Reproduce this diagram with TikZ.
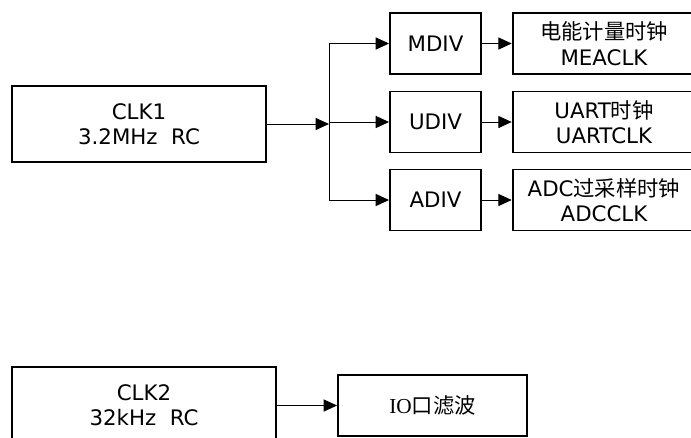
\documentclass[tikz,border=0pt]{standalone}
\usepackage{fontspec}
\newfontfamily\dv{DejaVu Sans}
\newfontfamily\cjk{Noto Sans CJK SC}
\newfontfamily\lsr{Liberation Serif}
\usetikzlibrary{arrows.meta}
\begin{document}
\begin{tikzpicture}[x=0.75pt,y=-0.75pt,
  box/.style={draw,line width=1.4pt,inner sep=0pt,align=center,
    font=\dv\fontsize{16}{19}\selectfont},
  conn/.style={line width=0.75pt},
  arr/.style={conn,-{Triangle[length=10pt,width=9pt]}}]
\clip (0,0) rectangle (691,437);
\node[box,minimum width=190.5pt,minimum height=57pt] (clk1) at (139,124) {CLK1\\3.2MHz\ \ RC};
\node[box,minimum width=68.25pt,minimum height=45.75pt] (mdiv) at (435.5,43.5) {MDIV};
\node[box,minimum width=68.25pt,minimum height=45.75pt] (udiv) at (435.5,122) {UDIV};
\node[box,minimum width=68.25pt,minimum height=45.75pt] (adiv) at (435.5,200) {ADIV};
\node[box,minimum width=137pt,minimum height=45.75pt] (o1) at (604,43.5) {{\cjk 电能计量时钟}\\MEACLK};
\node[box,minimum width=137pt,minimum height=45.75pt] (o2) at (604,122) {UART{\cjk 时钟}\\UARTCLK};
\node[box,minimum width=137pt,minimum height=45.75pt] (o3) at (604,200) {ADC{\cjk 过采样时钟}\\ADCCLK};
\node[box,minimum width=198pt,minimum height=57pt] (clk2) at (144,405) {CLK2\\32kHz\ \ RC};
\node[box,minimum width=141.75pt,minimum height=45.75pt,font=\lsr\fontsize{16}{19}\selectfont] (io) at (432.5,405.5) {IO{\cjk 口滤波}};
\coordinate (j) at (329,124);
\coordinate (jt) at (329,43.5);
\coordinate (jb) at (329,200);
\draw[conn] (jt) -- (jb);
\draw[arr] (clk1.east) -- (j);
\draw[arr] (jt) -- (mdiv.west);
\draw[arr] (j |- udiv.west) -- (udiv.west);
\draw[arr] (jb) -- (adiv.west);
\draw[arr] (mdiv.east) -- (o1.west);
\draw[arr] (udiv.east) -- (o2.west);
\draw[arr] (adiv.east) -- (o3.west);
\draw[arr] (clk2.east |- io.west) -- (io.west);
\end{tikzpicture}
\end{document}
